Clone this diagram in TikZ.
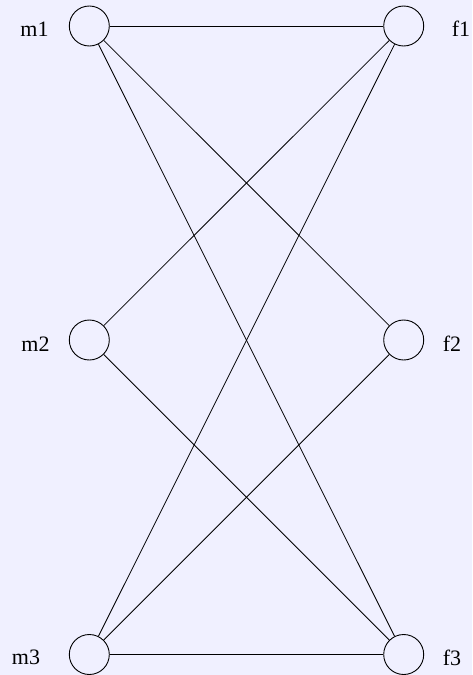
\documentclass[tikz,border=0pt]{standalone}
\usepackage{fontspec}
\setmainfont{Liberation Serif}
\definecolor{bgcol}{RGB}{240,240,255}
\begin{document}
\begin{tikzpicture}[x=1pt,y=-1pt,
  vert/.style={circle,draw,line width=0.9pt,minimum size=40pt,inner sep=0pt},
  lab/.style={anchor=base,inner sep=0pt,font=\fontsize{22}{26}\selectfont},
  edge/.style={line width=0.8pt}]
\fill[bgcol] (0,0) rectangle (472,675);
\useasboundingbox (0,0) rectangle (472,675);
\node[vert] (m1) at (89.3,26) {};
\node[vert] (m2) at (89.3,340) {};
\node[vert] (m3) at (89.3,654.5) {};
\node[vert] (f1) at (403.7,26) {};
\node[vert] (f2) at (403.7,340) {};
\node[vert] (f3) at (403.7,654.5) {};
\node[lab] (lm1) at (34.5,36) {m1};
\node[lab] (lm2) at (35.5,351) {m2};
\node[lab] (lm3) at (26,664) {m3};
\node[lab] (lf1) at (461,36) {f1};
\node[lab] (lf2) at (452,351) {f2};
\node[lab] (lf3) at (452,665) {f3};
\draw[edge] (m1) -- (f1);
\draw[edge] (m1) -- (f2);
\draw[edge] (m1) -- (f3);
\draw[edge] (m2) -- (f1);
\draw[edge] (m2) -- (f3);
\draw[edge] (m3) -- (f1);
\draw[edge] (m3) -- (f2);
\draw[edge] (m3) -- (f3);
\end{tikzpicture}
\end{document}
